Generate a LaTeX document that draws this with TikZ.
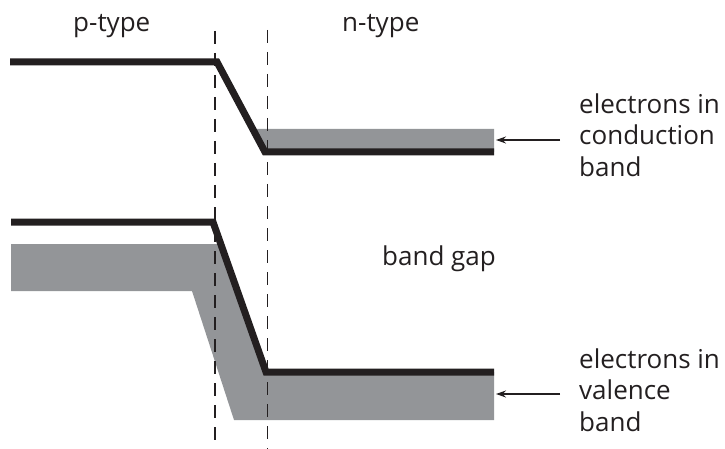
\documentclass[tikz,border=0pt]{standalone}
\usepackage{fontspec}
\setmainfont{Open Sans}
\usetikzlibrary{arrows.meta}
\definecolor{bandgray}{HTML}{939598}
\definecolor{levelblack}{HTML}{231F20}
\begin{document}
\begin{tikzpicture}[x=1pt,y=-1pt,
  band/.style={fill=bandgray, draw=none},
  level/.style={draw=levelblack, line width=7pt, line join=miter},
  divider/.style={draw=levelblack, line width=1.1pt, dash pattern=on 13pt off 9pt},
  lbl/.style={font=\fontsize{26}{31.5}\selectfont, text=levelblack, inner sep=0pt, align=left},
  pointer/.style={draw=levelblack, line width=1.2pt, -{Stealth[length=10pt,width=7pt]}}]
\useasboundingbox (0,0) rectangle (725,449);
% gray bands
\fill[band] (252.7,129) -- (494,129) -- (494,152) -- (265,152) -- cycle;
\fill[band] (11,244) -- (220.8,244) -- (266,372) -- (494,372) -- (494,420) -- (234,420) -- (192,291) -- (11,291) -- cycle;
% dashed junction boundaries
\coordinate (d1top) at (215,31);
\coordinate (d1bot) at (215,449);
\coordinate (d2top) at (267.5,30);
\coordinate (d2bot) at (267.5,449);
\draw[divider] (d1top) -- (d1bot);
\draw[divider] (d2top) -- (d2bot);
% band edges
\draw[level] (10,62) -- (217,62) -- (265,152) -- (494,152);
\draw[level] (11,222) -- (213,222) -- (266,372) -- (494,372);
% labels
\node[lbl, anchor=base west] (ptype) at (73,32) {p-type};
\node[lbl, anchor=base west] (ntype) at (342,32) {n-type};
\node[lbl, anchor=base west] (gap) at (382,265) {band gap};
\node[lbl, anchor=north west] (cond) at (579,93.5) {electrons in\\conduction\\band};
\node[lbl, anchor=north west] (val) at (579,348.5) {electrons in\\valence\\band};
% pointers
\coordinate (cfrom) at (560,140);
\coordinate (cto) at (496,140);
\coordinate (vfrom) at (560,394);
\coordinate (vto) at (496,394);
\draw[pointer] (cfrom) -- (cto);
\draw[pointer] (vfrom) -- (vto);
\end{tikzpicture}
\end{document}
